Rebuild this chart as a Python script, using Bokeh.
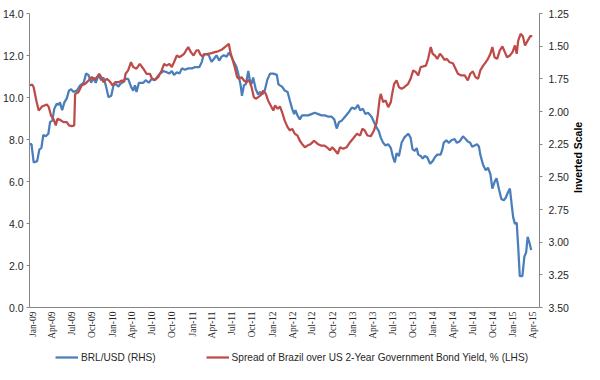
import math
import pandas as pd
from bokeh.plotting import figure
from bokeh.models import (Range1d, LinearAxis, FixedTicker, NumeralTickFormatter,
                          Legend, LegendItem, Span)
from bokeh.embed import file_html
from bokeh.resources import INLINE

# ---------------- data ----------------
brl_dates = [
    "2009-01-01", "2009-01-10", "2009-01-20", "2009-02-05", "2009-02-15", "2009-02-24", "2009-03-05", "2009-03-16", "2009-03-28", "2009-04-05", "2009-04-15", "2009-04-24", "2009-05-05", "2009-05-13", "2009-05-20", "2009-05-30", "2009-06-09", "2009-06-20", "2009-06-30", "2009-07-10", "2009-07-20", "2009-08-05", "2009-08-20", "2009-09-05", "2009-09-16", "2009-09-27", "2009-10-09", "2009-10-20", "2009-10-30", "2009-11-12", "2009-11-24", "2009-12-04", "2009-12-15", "2009-12-27",
    "2010-01-09", "2010-01-19", "2010-01-30", "2010-02-11", "2010-02-18", "2010-02-27", "2010-03-12", "2010-03-27", "2010-04-09", "2010-04-19", "2010-04-27", "2010-05-04", "2010-05-15", "2010-06-04", "2010-06-15", "2010-06-29", "2010-07-12", "2010-07-27", "2010-08-04", "2010-08-19", "2010-09-04", "2010-09-19", "2010-10-01", "2010-10-12", "2010-10-22", "2010-11-04", "2010-11-16", "2010-11-27", "2010-12-11", "2010-12-26",
    "2011-01-12", "2011-01-27", "2011-02-15", "2011-02-26", "2011-03-07", "2011-03-19", "2011-03-30", "2011-04-11", "2011-04-21", "2011-05-04", "2011-05-16", "2011-05-27", "2011-06-06", "2011-06-19", "2011-06-29", "2011-07-11", "2011-07-22", "2011-08-03", "2011-08-11", "2011-08-22", "2011-08-28", "2011-09-06", "2011-09-15", "2011-09-26", "2011-10-03", "2011-10-11", "2011-10-18", "2011-10-30", "2011-11-10", "2011-11-18", "2011-11-29", "2011-12-10", "2011-12-21",
    "2012-01-03", "2012-01-18", "2012-02-03", "2012-02-10", "2012-02-17", "2012-02-27", "2012-03-10", "2012-03-23", "2012-04-03", "2012-04-13", "2012-04-22", "2012-04-28", "2012-05-07", "2012-05-18", "2012-05-28", "2012-06-10", "2012-06-25", "2012-07-10", "2012-07-25", "2012-08-10", "2012-08-25", "2012-09-10", "2012-09-25", "2012-10-10", "2012-10-22", "2012-11-02", "2012-11-13", "2012-11-25", "2012-12-10", "2012-12-25",
    "2013-01-10", "2013-01-25", "2013-02-07", "2013-02-17", "2013-03-02", "2013-03-13", "2013-03-25", "2013-04-10", "2013-04-21", "2013-05-02", "2013-05-13", "2013-05-22", "2013-06-02", "2013-06-13", "2013-06-25", "2013-07-07", "2013-07-17", "2013-07-25", "2013-08-02", "2013-08-13", "2013-08-25", "2013-09-06", "2013-09-24", "2013-10-05", "2013-10-14", "2013-10-24", "2013-11-02", "2013-11-09", "2013-11-20", "2013-11-29", "2013-12-09", "2013-12-20",
    "2014-01-02", "2014-01-14", "2014-01-24", "2014-02-04", "2014-02-19", "2014-02-27", "2014-03-05", "2014-03-17", "2014-03-29", "2014-04-09", "2014-04-24", "2014-05-04", "2014-05-16", "2014-06-01", "2014-06-13", "2014-06-23", "2014-07-04", "2014-07-13", "2014-07-24", "2014-08-04", "2014-08-13", "2014-08-19", "2014-09-01", "2014-09-13", "2014-09-23", "2014-10-04", "2014-10-13", "2014-10-23", "2014-11-01", "2014-11-13", "2014-11-23", "2014-12-04", "2014-12-13", "2014-12-23",
    "2015-01-01", "2015-01-09", "2015-01-16", "2015-01-24", "2015-02-01", "2015-02-08", "2015-02-15", "2015-02-27", "2015-03-08", "2015-03-16", "2015-03-23", "2015-04-01", "2015-04-08",
]
brl_values = [
    2.25, 2.25, 2.39, 2.38, 2.29, 2.28, 2.18, 2.19, 2.17, 2.08, 2.07, 1.98, 1.94, 1.95, 1.93, 1.99, 1.93, 1.90, 1.84, 1.83, 1.85, 1.84, 1.80, 1.78, 1.71, 1.72, 1.78, 1.74, 1.78, 1.72, 1.76, 1.74, 1.80, 1.89,
    1.88, 1.80, 1.79, 1.81, 1.79, 1.78, 1.75, 1.75, 1.81, 1.84, 1.80, 1.85, 1.78, 1.78, 1.76, 1.78, 1.75, 1.76, 1.74, 1.71, 1.69, 1.70, 1.71, 1.69, 1.72, 1.70, 1.71, 1.67, 1.68, 1.67,
    1.67, 1.66, 1.66, 1.62, 1.56, 1.56, 1.57, 1.62, 1.60, 1.57, 1.61, 1.58, 1.57, 1.58, 1.55, 1.58, 1.62, 1.66, 1.71, 1.80, 1.88, 1.80, 1.79, 1.69, 1.76, 1.79, 1.74, 1.83, 1.87, 1.85, 1.87, 1.84, 1.76,
    1.71, 1.71, 1.72, 1.79, 1.80, 1.81, 1.84, 1.85, 1.92, 1.98, 2.02, 1.99, 2.03, 2.06, 2.03, 2.03, 2.03, 2.02, 2.01, 2.02, 2.03, 2.03, 2.04, 2.04, 2.06, 2.13, 2.08, 2.07, 2.04, 2.01,
    1.97, 1.98, 1.95, 1.99, 1.98, 2.02, 2.01, 2.04, 2.08, 2.12, 2.15, 2.20, 2.24, 2.26, 2.25, 2.28, 2.35, 2.39, 2.32, 2.34, 2.24, 2.20, 2.17, 2.20, 2.29, 2.30, 2.28, 2.33, 2.34, 2.36, 2.34, 2.35,
    2.40, 2.38, 2.35, 2.33, 2.33, 2.29, 2.24, 2.22, 2.24, 2.22, 2.21, 2.24, 2.23, 2.19, 2.21, 2.23, 2.24, 2.27, 2.26, 2.25, 2.27, 2.33, 2.41, 2.45, 2.43, 2.48, 2.59, 2.54, 2.51, 2.60, 2.67, 2.68, 2.66, 2.62,
    2.59, 2.71, 2.81, 2.86, 2.85, 3.04, 3.26, 3.26, 3.11, 3.08, 2.96, 3.01, 3.06,
]

spread_dates = [
    "2009-01-01", "2009-01-13", "2009-01-20", "2009-02-01", "2009-02-12", "2009-02-19", "2009-02-27", "2009-03-10", "2009-03-21", "2009-03-30", "2009-04-09", "2009-04-20", "2009-05-01", "2009-05-08", "2009-05-20", "2009-06-05", "2009-06-20", "2009-06-30", "2009-07-13", "2009-07-24", "2009-07-28", "2009-08-12", "2009-08-27", "2009-09-12", "2009-09-27", "2009-10-12", "2009-10-24", "2009-11-05", "2009-11-15", "2009-11-24", "2009-12-04", "2009-12-20",
    "2010-01-05", "2010-01-15", "2010-01-27", "2010-02-11", "2010-02-26", "2010-03-09", "2010-03-15", "2010-03-27", "2010-04-09", "2010-04-19", "2010-05-04", "2010-05-19", "2010-06-04", "2010-06-19", "2010-07-04", "2010-07-14", "2010-07-27", "2010-08-11", "2010-08-27", "2010-09-07", "2010-09-19", "2010-10-01", "2010-10-12", "2010-10-22", "2010-11-04", "2010-11-16", "2010-11-27", "2010-12-07", "2010-12-16", "2010-12-26",
    "2011-01-07", "2011-01-19", "2011-02-01", "2011-02-11", "2011-02-19", "2011-03-01", "2011-03-11", "2011-03-26", "2011-04-11", "2011-04-26", "2011-05-11", "2011-05-27", "2011-06-11", "2011-06-21", "2011-06-29", "2011-07-06", "2011-07-15", "2011-07-26", "2011-08-06", "2011-08-15", "2011-08-26", "2011-09-06", "2011-09-18", "2011-09-29", "2011-10-11", "2011-10-21", "2011-10-30", "2011-11-10", "2011-11-21", "2011-12-03", "2011-12-15", "2011-12-25",
    "2012-01-06", "2012-01-18", "2012-01-26", "2012-02-07", "2012-02-17", "2012-02-27", "2012-03-10", "2012-03-23", "2012-04-03", "2012-04-13", "2012-04-25", "2012-05-07", "2012-05-18", "2012-05-28", "2012-06-10", "2012-06-22", "2012-07-07", "2012-07-22", "2012-08-07", "2012-08-22", "2012-09-07", "2012-09-22", "2012-10-02", "2012-10-13", "2012-10-25", "2012-11-07", "2012-11-17", "2012-12-02", "2012-12-17",
    "2013-01-02", "2013-01-17", "2013-02-02", "2013-02-17", "2013-02-27", "2013-03-10", "2013-03-22", "2013-04-07", "2013-04-21", "2013-05-02", "2013-05-09", "2013-05-17", "2013-05-22", "2013-06-02", "2013-06-13", "2013-06-25", "2013-07-07", "2013-07-13", "2013-07-22", "2013-08-02", "2013-08-13", "2013-08-25", "2013-09-06", "2013-09-24", "2013-10-05", "2013-10-17", "2013-10-29", "2013-11-09", "2013-11-20", "2013-12-02", "2013-12-14", "2013-12-24",
    "2014-01-05", "2014-01-14", "2014-01-24", "2014-02-04", "2014-02-16", "2014-02-27", "2014-03-09", "2014-03-19", "2014-04-01", "2014-04-16", "2014-04-28", "2014-05-09", "2014-05-24", "2014-06-09", "2014-06-23", "2014-07-04", "2014-07-16", "2014-07-28", "2014-08-09", "2014-08-19", "2014-09-01", "2014-09-13", "2014-09-23", "2014-10-04", "2014-10-13", "2014-10-23", "2014-11-04", "2014-11-16", "2014-11-28", "2014-12-09", "2014-12-19",
    "2015-01-01", "2015-01-13", "2015-01-24", "2015-02-01", "2015-02-08", "2015-02-19", "2015-03-01", "2015-03-11", "2015-03-23", "2015-04-04", "2015-04-13",
]
spread_values = [
    10.57, 10.62, 10.49, 9.86, 9.38, 9.46, 9.57, 9.62, 9.67, 9.54, 9.14, 8.98, 8.67, 8.98, 8.94, 8.83, 8.83, 8.67, 8.64, 8.67, 10.17, 10.25, 10.57, 10.65, 10.81, 10.97, 10.84, 10.97, 11.13, 10.97, 10.73, 10.89,
    10.73, 10.57, 10.73, 10.73, 10.81, 10.73, 11.13, 11.29, 11.68, 11.45, 11.37, 11.60, 11.37, 11.13, 11.13, 10.89, 10.84, 10.97, 11.29, 11.60, 11.52, 11.60, 11.45, 11.68, 12.00, 11.92, 12.00, 12.08, 12.24, 12.40,
    12.16, 12.00, 12.24, 12.24, 12.05, 11.95, 12.05, 12.08, 12.11, 12.16, 12.20, 12.27, 12.40, 12.48, 12.56, 12.16, 11.84, 11.45, 10.97, 10.89, 10.97, 10.81, 10.73, 10.84, 10.49, 10.02, 9.94, 10.02, 10.10, 10.33, 10.17, 9.86,
    9.62, 9.38, 9.62, 9.46, 9.57, 9.30, 8.90, 8.59, 8.43, 8.51, 8.27, 8.19, 7.94, 7.79, 7.63, 7.71, 7.79, 7.94, 7.79, 7.71, 7.71, 7.60, 7.49, 7.63, 7.49, 7.32, 7.63, 7.56, 7.63,
    7.87, 8.06, 8.27, 8.19, 8.51, 8.43, 8.19, 8.16, 8.43, 8.75, 9.22, 9.94, 10.17, 9.78, 9.86, 9.54, 9.78, 10.17, 10.65, 10.81, 10.49, 10.41, 10.49, 10.65, 10.89, 11.29, 11.21, 11.05, 11.45, 11.48, 11.52, 11.84,
    12.40, 12.08, 12.00, 11.84, 12.08, 11.95, 11.79, 11.84, 11.68, 11.63, 11.37, 11.13, 11.05, 11.05, 10.81, 11.13, 11.24, 10.97, 10.89, 11.29, 11.52, 11.68, 11.84, 12.08, 12.40, 11.92, 11.84, 12.24, 12.43, 12.16, 11.92,
    12.00, 12.16, 12.48, 12.08, 12.71, 13.03, 12.92, 12.48, 12.71, 12.92, 12.92,
]

quarter_ticks = [f"{y}-{m:02d}-01" for y in range(2009, 2016) for m in (1, 4, 7, 10)][:26]
left_ticks = [0, 2, 4, 6, 8, 10, 12, 14]
right_ticks = [1.25, 1.50, 1.75, 2.00, 2.25, 2.50, 2.75, 3.00, 3.25, 3.50]
left_lo, left_hi = 0, 14
right_lo, right_hi = 1.25, 3.50

assert len(brl_dates) == len(brl_values)
assert len(spread_dates) == len(spread_values)

# ---------------- styling / layout ----------------
FONT = "Liberation Sans"
TXT = "#262626"
AX = "#868686"
BLUE = "#4a7ebb"
RED = "#be4b48"

PLOT_H = 294          # pixel height of the value area
PAD = 65              # room under the value area for date labels and legend
FRAME_H = PLOT_H + PAD

brl_x = pd.to_datetime(brl_dates)
spread_x = pd.to_datetime(spread_dates)
tick_x = pd.to_datetime(quarter_ticks)
tick_labels = [d.strftime("%b-%y") for d in tick_x]

y_lo = left_lo - (left_hi - left_lo) * PAD / PLOT_H
r_lo = right_hi + (right_hi - right_lo) * PAD / PLOT_H

p = figure(frame_width=510, frame_height=FRAME_H, x_axis_type="datetime", x_axis_location=None,
           x_range=Range1d(pd.Timestamp("2009-01-01"), pd.Timestamp("2015-05-16")),
           y_range=Range1d(y_lo, left_hi),
           output_backend="svg", toolbar_location=None,
           min_border_left=26, min_border_right=48, min_border_top=13, min_border_bottom=0)
p.extra_y_ranges = {"brl": Range1d(r_lo, right_lo)}
p.grid.visible = False
p.outline_line_color = None
p.background_fill_color = "white"
p.border_fill_color = "white"

r_blue = p.line(brl_x, brl_values, y_range_name="brl", line_color=BLUE, line_width=2.25)
r_red = p.line(spread_x, spread_values, line_color=RED, line_width=2.25)

# left axis
ya = p.yaxis[0]
ya.ticker = FixedTicker(ticks=left_ticks)
ya.formatter = NumeralTickFormatter(format="0.0")
ya.bounds = (left_lo, left_hi)

# right axis
ra = LinearAxis(y_range_name="brl", axis_label="Inverted Scale", bounds=(right_lo, right_hi))
ra.ticker = FixedTicker(ticks=right_ticks)
ra.formatter = NumeralTickFormatter(format="0.00")
p.add_layout(ra, "right")

for ax in (ya, ra):
    ax.axis_line_color = AX
    ax.major_tick_line_color = AX
    ax.major_tick_out = 3
    ax.major_tick_in = 0
    ax.minor_tick_line_color = None
    ax.major_label_text_font = FONT
    ax.major_label_text_font_size = "10.5px"
    ax.major_label_text_color = TXT
    ax.major_label_standoff = 3
ra.major_label_standoff = 6
ra.axis_label_text_font = FONT
ra.axis_label_text_font_size = "10.5px"
ra.axis_label_text_font_style = "bold"
ra.axis_label_text_color = "#000000"
ra.axis_label_standoff = 6
ra.axis_label_orientation = math.pi / 2

# horizontal (date) axis: line at zero and rotated quarter labels
p.add_layout(Span(location=left_lo, dimension="width", line_color=AX, line_width=1))
p.text(x=tick_x, y=[left_lo] * len(tick_x), text=tick_labels, angle=math.pi / 2,
       text_align="right", text_baseline="middle", x_offset=3, y_offset=4,
       text_font=FONT, text_font_size="9.5px", text_color=TXT)

legend = Legend(items=[LegendItem(label="BRL/USD (RHS)", renderers=[r_blue]),
                       LegendItem(label="Spread of Brazil over US 2-Year Government Bond Yield, % (LHS)",
                                  renderers=[r_red])],
                orientation="horizontal", location=(26, 8),
                glyph_width=23, glyph_height=14, label_standoff=3, spacing=50,
                padding=2, margin=0, border_line_color=None, background_fill_alpha=0,
                label_text_font=FONT, label_text_font_size="10.1px", label_text_color=TXT,
                label_height=14)
p.add_layout(legend, "center")

open("out.html", "w").write(file_html(p, INLINE))
